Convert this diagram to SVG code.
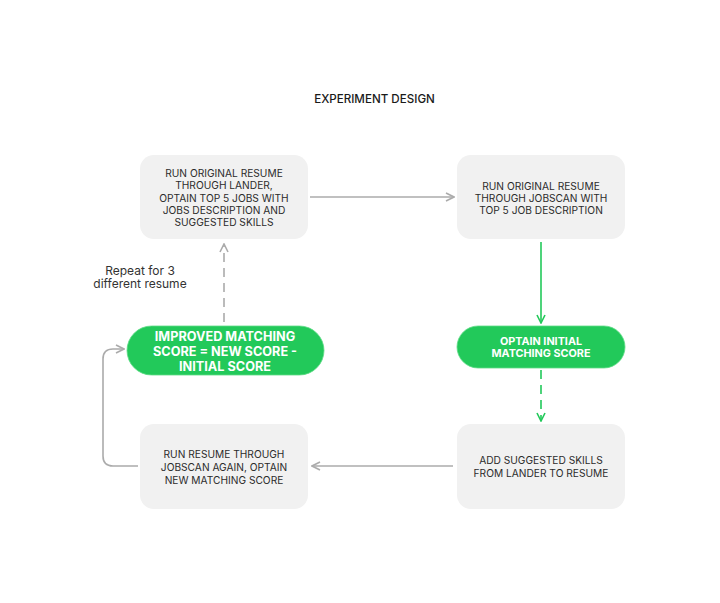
<svg xmlns="http://www.w3.org/2000/svg" width="720" height="603" viewBox="0 0 720 603">
<style>
text{font-family:"Inter","Liberation Sans",Arial,sans-serif;text-anchor:middle;dominant-baseline:central}
.box{fill:#f1f1f1}
.bt{font-size:10.2px;fill:#2b2b2b}
.pill{fill:#22c95a;stroke:#5fdc86;stroke-width:0.8}
.pt{fill:#ffffff;font-weight:700}
.g{fill:none;stroke:#ababab;stroke-width:1.6}
.gr{fill:none;stroke:#22c95a;stroke-width:1.6}
.dash{stroke-dasharray:9 6}
</style>
<defs>
<marker id="ag" viewBox="0 0 10 10" refX="9" refY="5" markerWidth="10" markerHeight="10" markerUnits="userSpaceOnUse" orient="auto">
<path d="M1,1 L9,5 L1,9" fill="none" stroke="#ababab" stroke-width="1.6"/>
</marker>
<marker id="agr" viewBox="0 0 10 10" refX="9" refY="5" markerWidth="10" markerHeight="10" markerUnits="userSpaceOnUse" orient="auto">
<path d="M1,1 L9,5 L1,9" fill="none" stroke="#22c95a" stroke-width="1.6"/>
</marker>
</defs>
<rect width="720" height="603" fill="#ffffff"/>
<text x="374.5" y="99" style="font-size:11.6px;font-weight:500;fill:#1a1a1a">EXPERIMENT DESIGN</text>

<g id="connectors">
<path class="g" d="M310,197 H454" marker-end="url(#ag)"/>
<path class="gr" d="M541,242 V323" marker-end="url(#agr)"/>
<path class="gr dash" d="M541,370 V421" marker-end="url(#agr)"/>
<path class="g" d="M453,466 H312" marker-end="url(#ag)"/>
<path class="g" d="M138,466 H113 Q103,466 103,456 V359 Q103,349 113,349 H124" marker-end="url(#ag)"/>
<path class="g dash" d="M224,322 V244" marker-end="url(#ag)"/>
</g>

<g id="n1">
<rect class="box" x="140" y="155" width="168" height="84" rx="14"/>
<text class="bt" x="224" y="173">RUN ORIGINAL RESUME</text>
<text class="bt" x="224" y="185">THROUGH LANDER,</text>
<text class="bt" x="224" y="197.5">OPTAIN TOP 5 JOBS WITH</text>
<text class="bt" x="224" y="210">JOBS DESCRIPTION AND</text>
<text class="bt" x="224" y="222">SUGGESTED SKILLS</text>
</g>

<g id="n2">
<rect class="box" x="457" y="155" width="168" height="84" rx="14"/>
<text class="bt" x="541" y="185.5">RUN ORIGINAL RESUME</text>
<text class="bt" x="541" y="197.5">THROUGH JOBSCAN WITH</text>
<text class="bt" x="541" y="210">TOP 5 JOB DESCRIPTION</text>
</g>

<g id="n3">
<rect class="pill" x="457" y="326" width="168" height="42" rx="21"/>
<text class="pt" x="541" y="341" style="font-size:10.8px">OPTAIN INITIAL</text>
<text class="pt" x="541" y="353.5" style="font-size:10.8px">MATCHING SCORE</text>
</g>

<g id="n4">
<rect class="box" x="457" y="424" width="168" height="85" rx="14"/>
<text class="bt" x="541" y="460">ADD SUGGESTED SKILLS</text>
<text class="bt" x="541" y="473">FROM LANDER TO RESUME</text>
</g>

<g id="n5">
<rect class="box" x="140" y="424" width="168" height="85" rx="14"/>
<text class="bt" x="224" y="454">RUN RESUME THROUGH</text>
<text class="bt" x="224" y="467">JOBSCAN AGAIN, OPTAIN</text>
<text class="bt" x="224" y="480">NEW MATCHING SCORE</text>
</g>

<g id="n6">
<rect class="pill" x="127" y="326" width="197" height="49" rx="24.5"/>
<text class="pt" x="225" y="336" style="font-size:12.7px">IMPROVED MATCHING</text>
<text class="pt" x="225" y="351" style="font-size:12.7px">SCORE = NEW SCORE -</text>
<text class="pt" x="225" y="366" style="font-size:12.7px">INITIAL SCORE</text>
</g>

<g id="note">
<text x="140" y="270" style="font-size:12px;fill:#333333">Repeat for 3</text>
<text x="140" y="283.5" style="font-size:12px;fill:#333333">different resume</text>
</g>
</svg>
